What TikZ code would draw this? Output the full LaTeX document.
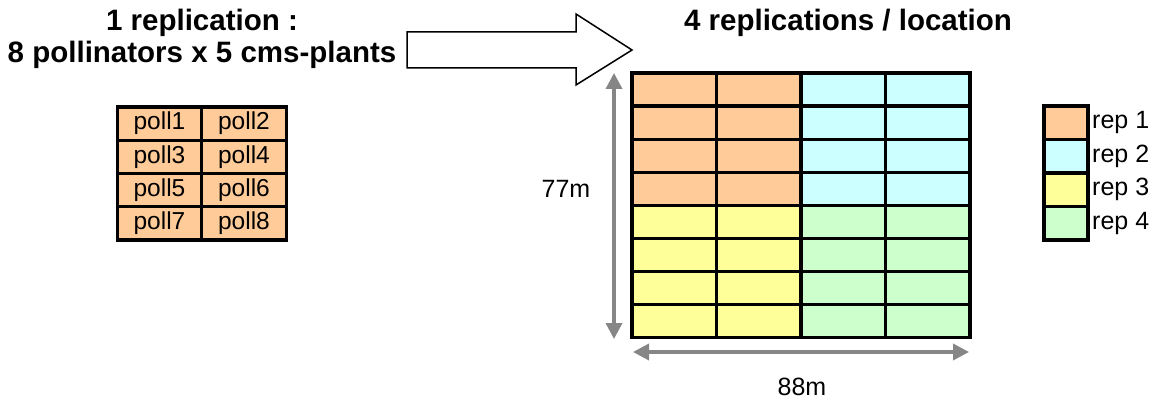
\documentclass[tikz,border=0pt]{standalone}
\usepackage{fontspec}
\setmainfont{Liberation Sans}
\usetikzlibrary{arrows.meta}
\definecolor{orng}{HTML}{FFCC99}
\definecolor{cyn}{HTML}{CCFFFF}
\definecolor{yel}{HTML}{FFFF99}
\definecolor{grn}{HTML}{CCFFCC}
\definecolor{dimgray}{HTML}{868686}
\tikzset{
  title/.style={font=\fontsize{29.5}{34}\selectfont\bfseries, inner sep=0pt, anchor=base},
  lbl/.style={font=\fontsize{25}{30}\selectfont, inner sep=0pt},
  cell/.style={draw=black, line width=3.2pt, minimum width=84.5pt, minimum height=33.1pt, inner sep=0pt},
  pcell/.style={draw=black, line width=3.2pt, fill=orng, minimum width=84.5pt, minimum height=33.25pt, inner sep=0pt, font=\fontsize{24.5}{28}\selectfont},
  lcell/.style={draw=black, line width=3.2pt, minimum width=44pt, minimum height=33.5pt, inner sep=0pt},
  dimarrow/.style={draw=dimgray, line width=3.5pt, {Triangle[width=16pt,length=16pt]}-{Triangle[width=16pt,length=16pt]}},
  blockarrow/.style={draw=black, line width=1.5pt, fill=white, line join=miter}
}
\begin{document}
\begin{tikzpicture}[x=1pt,y=-1pt]
\useasboundingbox (0,0) rectangle (1161,401);
% titles
\node[title] (t1) at (202,31) {1 replication :};
\node[title] (t2) at (202,63) {8 pollinators x 5 cms-plants};
\node[title] (t3) at (848,31) {4 replications / location};
% block arrow
\draw[blockarrow] (407,32) -- (576,32) -- (576,14) -- (632,50) -- (576,85) -- (576,68) -- (407,68) -- cycle;
% small table
\foreach \r/\a/\b in {0/1/2,1/3/4,2/5/6,3/7/8}{
  \node[pcell] (p\a) at (159.5,{123.6+33.25*\r}) {poll\a};
  \node[pcell] (p\b) at (244,{123.6+33.25*\r}) {poll\b};
}
% big grid
\foreach \r in {0,...,7}{
  \foreach \c in {0,...,3}{
    \ifnum\r<4
      \ifnum\c<2 \def\col{orng}\else\def\col{cyn}\fi
    \else
      \ifnum\c<2 \def\col{yel}\else\def\col{grn}\fi
    \fi
    \node[cell, fill=\col] (g\r\c) at ({674.25+84.5*\c},{89.55+33.1*\r}) {};
  }
}
% dimension arrows
\coordinate (vt) at (614,73);
\coordinate (vb) at (614,339);
\coordinate (hl) at (633,352);
\coordinate (hr) at (969,352);
\draw[dimarrow] (vb) -- (vt);
\draw[dimarrow] (hl) -- (hr);
\node[lbl] (l77) at (566,189) {77m};
\node[lbl] (l88) at (802,387) {88m};
% legend
\foreach \i/\col in {1/orng,2/cyn,3/yel,4/grn}{
  \node[lcell, fill=\col] (lg\i) at (1066,{122.75+33.5*(\i-1)}) {};
  \node[lbl, anchor=west] (lt\i) at (1092,{122.75+33.5*(\i-1)}) {rep \i};
}
\end{tikzpicture}
\end{document}
